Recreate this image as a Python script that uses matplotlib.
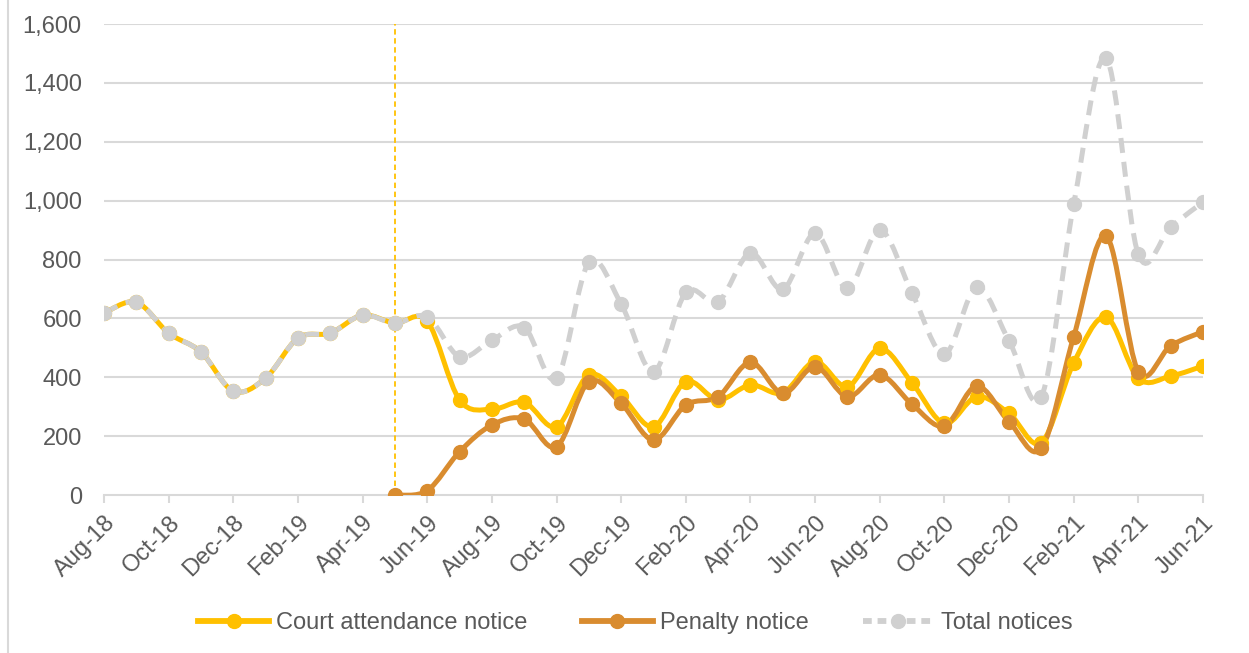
import numpy as np
import matplotlib
matplotlib.use("Agg")
import matplotlib.pyplot as plt
from matplotlib.path import Path
from matplotlib.patches import PathPatch
from matplotlib.lines import Line2D

plt.rcParams['font.family'] = ['Liberation Sans', 'DejaVu Sans']

months = ["Aug-18", "Sep-18", "Oct-18", "Nov-18", "Dec-18", "Jan-19", "Feb-19", "Mar-19", "Apr-19",
          "May-19", "Jun-19", "Jul-19", "Aug-19", "Sep-19", "Oct-19", "Nov-19", "Dec-19",
          "Jan-20", "Feb-20", "Mar-20", "Apr-20", "May-20", "Jun-20", "Jul-20", "Aug-20",
          "Sep-20", "Oct-20", "Nov-20", "Dec-20", "Jan-21", "Feb-21", "Mar-21", "Apr-21",
          "May-21", "Jun-21"]
court = [618, 655, 550, 486, 353, 397, 533, 550, 611,
         584, 590, 323, 291, 315, 232, 408, 336,
         232, 385, 323, 374, 347, 453, 368, 498,
         381, 243, 334, 277, 178, 449, 604, 396,
         404, 438]
penalty = [None] * 9 + [0, 15, 147, 238, 258, 164, 385, 311,
           187, 306, 334, 451, 345, 436, 334, 408,
           308, 234, 370, 249, 159, 538, 880, 419,
           507, 555]
total = [618, 655, 550, 486, 353, 397, 533, 550, 611,
         584, 605, 470, 526, 569, 396, 790, 649,
         419, 688, 657, 822, 699, 889, 702, 900,
         686, 479, 705, 524, 334, 988, 1484, 817,
         911, 995]
start_marker = "May-19"

C_COURT = "#FFC000"
C_PEN = "#D98C2F"
C_TOT = "#D0D0D0"
TXT = "#595959"
GRID = "#D9D9D9"
FS = 17


def smooth_path(xs, ys):
    # Excel-style smoothed line: cubic Bezier through the points
    pts = np.column_stack([xs, ys]).astype(float)
    verts = [pts[0]]
    codes = [Path.MOVETO]
    n = len(pts)
    for i in range(n - 1):
        p0 = pts[i - 1] if i > 0 else pts[i]
        p1, p2 = pts[i], pts[i + 1]
        p3 = pts[i + 2] if i + 2 < n else pts[i + 1]
        c1 = p1 + (p2 - p0) / 6.0
        c2 = p2 - (p3 - p1) / 6.0
        verts += [c1, c2, p2]
        codes += [Path.CURVE4] * 3
    return Path(verts, codes)


fig = plt.figure(figsize=(12.49, 6.53), dpi=100)
ax = fig.add_axes([104 / 1249, 1 - 495 / 653, (1203 - 104) / 1249, (495 - 24) / 653])

x = np.arange(len(months))
series = [
    (court, C_COURT, None),
    (penalty, C_PEN, None),
    (total, C_TOT, (0, (3.0, 1.8))),
]
for vals, col, ls in series:
    xs = [xi for xi, v in zip(x, vals) if v is not None]
    ys = [v for v in vals if v is not None]
    patch = PathPatch(smooth_path(xs, ys), fill=False, edgecolor=col, lw=3.6,
                      linestyle=ls if ls else "solid", capstyle="butt", zorder=3)
    ax.add_patch(patch)
    ax.plot(xs, ys, ls="none", marker="o", ms=10, color=col, mec=col, zorder=4)

ax.axvline(months.index(start_marker), color=C_COURT, lw=1.3, ls=(0, (3, 2)), zorder=2)

ax.set_xlim(0, len(months) - 1)
ax.set_ylim(0, 1600)
ax.set_yticks(range(0, 1601, 200))
ax.set_yticklabels([f"{v:,}" for v in range(0, 1601, 200)])
ax.set_xticks(x[::2])
ax.set_xticklabels(months[::2], rotation=45, ha="right", rotation_mode="anchor")
ax.tick_params(axis="y", length=0, pad=16, labelsize=FS, labelcolor=TXT)
ax.tick_params(axis="x", length=6, width=1.5, color=GRID, pad=6, labelsize=FS, labelcolor=TXT)
for s in ["top", "right", "left"]:
    ax.spines[s].set_visible(False)
ax.spines["bottom"].set_color(GRID)
ax.spines["bottom"].set_linewidth(1.5)
for v in range(200, 1601, 200):
    ax.axhline(v, color=GRID, lw=1.5, zorder=1)

handles = [
    Line2D([], [], color=C_COURT, lw=4.2, marker="o", ms=10),
    Line2D([], [], color=C_PEN, lw=4.2, marker="o", ms=10),
    Line2D([], [], color=C_TOT, lw=4.2, marker="o", ms=10, ls=(0, (1.5, 1.0))),
]
fig.legend(handles, ["Court attendance notice", "Penalty notice", "Total notices"],
           loc="center", bbox_to_anchor=(0.5 + 11 / 1249, 1 - 623 / 653), ncol=3, frameon=False,
           fontsize=FS, labelcolor=TXT, handlelength=3.0, columnspacing=2.3, handletextpad=0.3)

fig.add_artist(Line2D([8 / 1249, 8 / 1249], [0, 1], color=GRID, lw=1.5))

fig.savefig("out.png", dpi=100)
